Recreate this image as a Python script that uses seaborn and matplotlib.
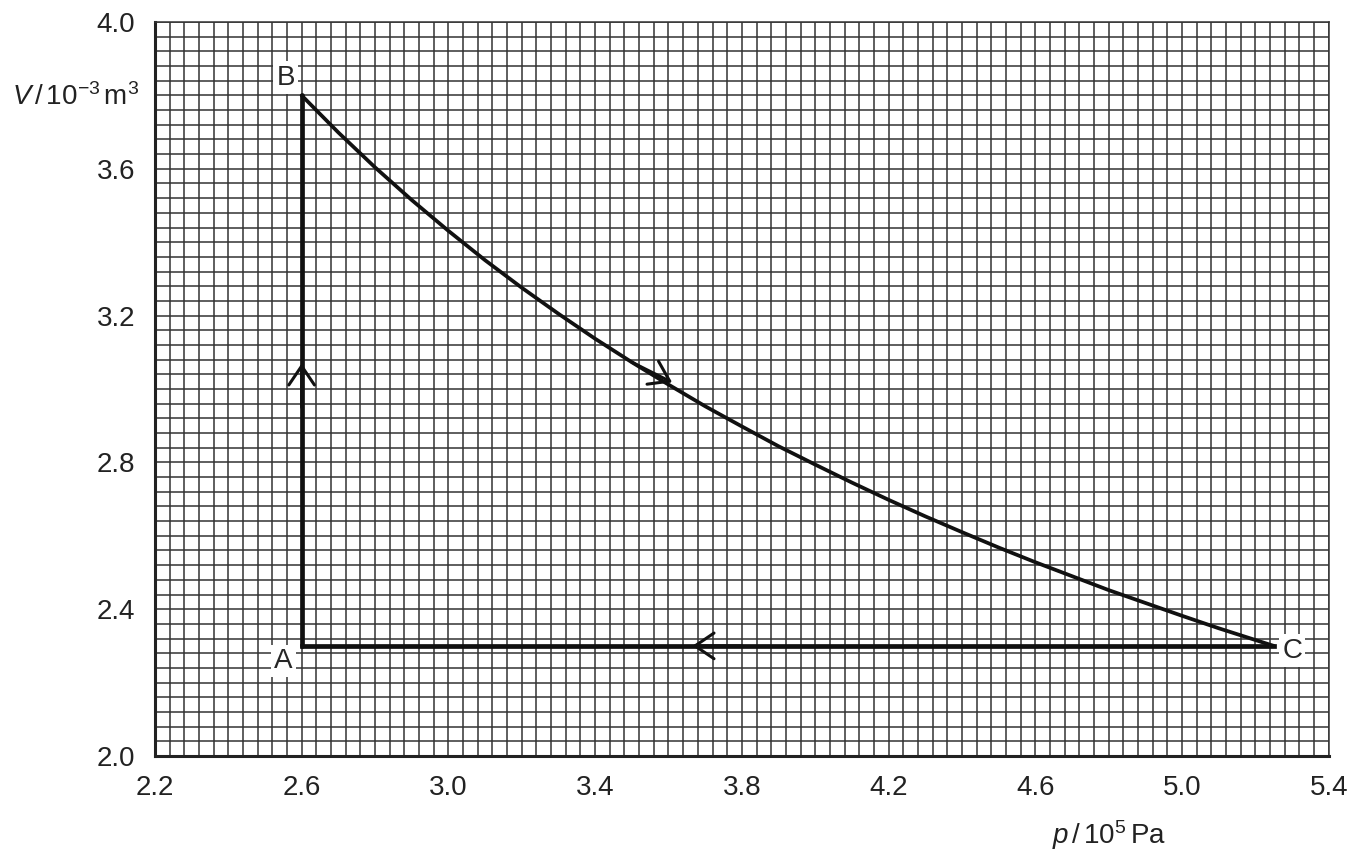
import numpy as np
import pandas as pd
import matplotlib
matplotlib.use("Agg")
import matplotlib.pyplot as plt
import seaborn as sns

# corner points of the cycle (p / 10^5 Pa, V / 10^-3 m^3)
p_A, V_A = 2.6, 2.3
p_B, V_B = 2.6, 3.8
p_C, V_C = 5.25, 2.3

# curve B -> C
p_curve = [2.6, 2.7, 2.8, 2.9, 3.0, 3.1, 3.2, 3.3, 3.4, 3.5, 3.6, 3.7, 3.8, 3.9,
           4.0, 4.1, 4.2, 4.3, 4.4, 4.5, 4.6, 4.7, 4.8, 4.9, 5.0, 5.1, 5.2, 5.25]
V_curve = [3.800, 3.699, 3.604, 3.515, 3.431, 3.351, 3.276, 3.205, 3.137, 3.073,
           3.012, 2.953, 2.898, 2.844, 2.794, 2.745, 2.698, 2.653, 2.610, 2.568,
           2.528, 2.490, 2.452, 2.417, 2.382, 2.348, 2.316, 2.300]

x_ticks = [2.2, 2.6, 3.0, 3.4, 3.8, 4.2, 4.6, 5.0, 5.4]
y_ticks = [2.0, 2.4, 2.8, 3.2, 3.6, 4.0]
x_tick_labels = ["2.2", "2.6", "3.0", "3.4", "3.8", "4.2", "4.6", "5.0", "5.4"]
y_tick_labels = ["2.0", "2.4", "2.8", "3.2", "3.6", "4.0"]

sns.set_style("white")
plt.rcParams['font.family'] = ['Liberation Sans', 'DejaVu Sans']
plt.rcParams['mathtext.fontset'] = 'custom'
plt.rcParams['mathtext.rm'] = 'Liberation Sans'
plt.rcParams['mathtext.it'] = 'Liberation Sans:italic'

FS = 20

fig = plt.figure(figsize=(13.47, 8.5), dpi=100)
ax = fig.add_axes([0.115, 0.1106, 0.8715, 0.8635])

# graph paper grid
ax.set_xlim(2.2, 5.4)
ax.set_ylim(2.0, 4.0)
ax.set_xticks(np.arange(2.2, 5.4001, 0.04), minor=True)
ax.set_yticks(np.arange(2.0, 4.0001, 0.04), minor=True)
ax.set_xticks(x_ticks)
ax.set_yticks(y_ticks)
ax.set_xticklabels(x_tick_labels, fontsize=FS, color="#222222")
ax.set_yticklabels(y_tick_labels, fontsize=FS, color="#222222")
ax.grid(True, which="both", color="#333333", linewidth=1.1)
ax.set_axisbelow(True)
ax.tick_params(which="minor", length=0)
ax.tick_params(which="major", direction="out", length=8, width=2,
               color="#222222", pad=6)

for side in ["left", "bottom"]:
    ax.spines[side].set_linewidth(2.2)
    ax.spines[side].set_color("#222222")
for side in ["top", "right"]:
    ax.spines[side].set_linewidth(1.1)
    ax.spines[side].set_color("#333333")

# cycle
ab = pd.DataFrame({"p": [p_A, p_B], "V": [V_A, V_B]})
bc = pd.DataFrame({"p": p_curve, "V": V_curve})
ca = pd.DataFrame({"p": [p_C, p_A], "V": [V_C, V_A]})
sns.lineplot(data=ab, x="p", y="V", sort=False, estimator=None, color="#111111",
             linewidth=3.4, ax=ax)
sns.lineplot(data=bc, x="p", y="V", sort=False, estimator=None, color="#111111",
             linewidth=2.7, ax=ax)
sns.lineplot(data=ca, x="p", y="V", sort=False, estimator=None, color="#111111",
             linewidth=3.4, ax=ax, solid_capstyle="projecting")

# direction arrows (open chevrons)
arrow_kw = dict(arrowstyle="->,head_length=0.62,head_width=0.42", color="#111111",
                lw=2.2, mutation_scale=22, shrinkA=0, shrinkB=0)
ax.annotate("", xy=(2.6, 3.07), xytext=(2.6, 2.95), arrowprops=arrow_kw)
ax.annotate("", xy=(3.61, 3.018), xytext=(3.50, 3.073), arrowprops=arrow_kw)
ax.annotate("", xy=(3.665, 2.3), xytext=(3.80, 2.3), arrowprops=arrow_kw)

# point labels
box = dict(boxstyle="square,pad=0.12", facecolor="white", edgecolor="none")
ax.text(2.55, 2.259, "A", fontsize=FS, ha="center", va="center", bbox=box)
ax.text(2.557, 3.848, "B", fontsize=FS, ha="center", va="center", bbox=box)
ax.text(5.30, 2.287, "C", fontsize=FS, ha="center", va="center", bbox=box)

ax.set_xlabel("")
ax.set_ylabel("")
fig.text(0.056, 0.886, r"$V\,/\,10^{-3}\,\mathrm{m}^3$", fontsize=FS,
         ha="center", va="center", color="#222222")
fig.text(0.823, 0.017, r"$p\,/\,10^{5}\,\mathrm{Pa}$", fontsize=FS,
         ha="center", va="center", color="#222222")

fig.savefig("out.png", dpi=100)
